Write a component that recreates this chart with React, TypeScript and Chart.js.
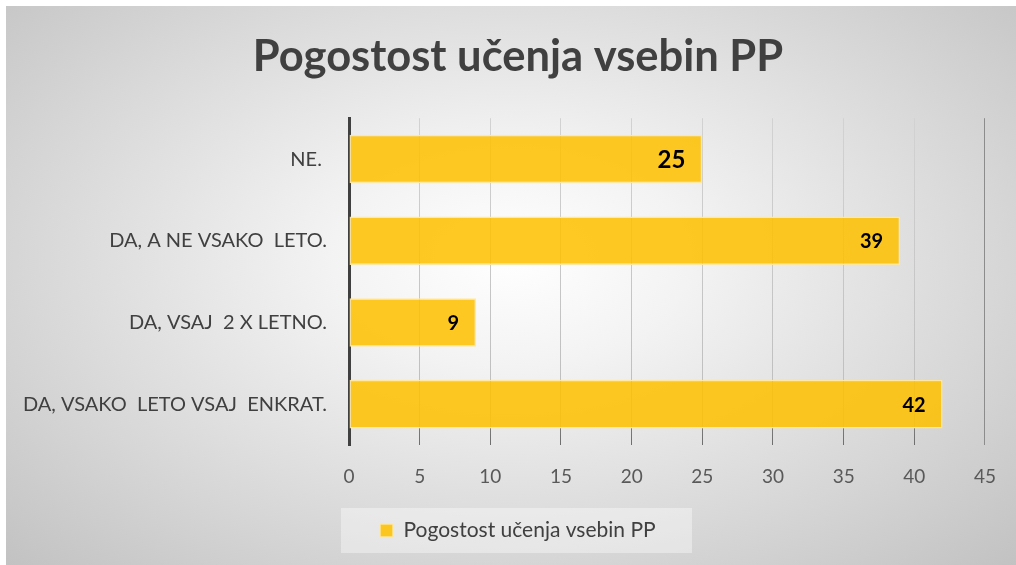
import React, { useEffect, useRef } from "react";
import { Chart, registerables } from "chart.js";

Chart.register(...registerables);

const chartTitle = "Pogostost učenja vsebin PP";
const seriesName = "Pogostost učenja vsebin PP";
const categories = [
  "NE. ",
  "DA, A NE VSAKO  LETO.",
  "DA, VSAJ  2 X LETNO.",
  "DA, VSAKO  LETO VSAJ  ENKRAT.",
];
const values = [25, 39, 9, 42];
const valueTicks = [0, 5, 10, 15, 20, 25, 30, 35, 40, 45];

const FONT = "Lato, 'Open Sans', sans-serif";
const valueLabelSizes = [24, 20, 20, 20];

export default function App() {
  const ref = useRef<HTMLCanvasElement>(null);

  useEffect(() => {
    const canvas = ref.current;
    if (!canvas) return;

    const valueLabels = {
      id: "valueLabels",
      afterDatasetsDraw(chart: any) {
        const ctx = chart.ctx;
        const meta = chart.getDatasetMeta(0);
        ctx.save();
        ctx.fillStyle = "#000000";
        ctx.textAlign = "right";
        ctx.textBaseline = "middle";
        meta.data.forEach((bar: any, i: number) => {
          const size = valueLabelSizes[i] ?? 20;
          ctx.font = `bold ${size}px ${FONT}`;
          ctx.fillText(String(values[i]), bar.x - 17, bar.y + 1);
        });
        ctx.restore();
      },
    };

    const blockPlacement = {
      id: "blockPlacement",
      afterLayout(chart: any) {
        const t = chart.titleBlock;
        if (t) {
          const dx = 512 - (t.left + t.right) / 2;
          t.left += dx;
          t.right += dx;
        }
      },
      afterUpdate(chart: any) {
        const lg = chart.legend;
        if (!lg || !lg.legendHitBoxes || !lg.legendHitBoxes.length) return;
        const hb = lg.legendHitBoxes[0];
        const dx = 374 - hb.left;
        const dy = 524.5 - (hb.top + hb.height / 2);
        lg.left += dx;
        lg.right += dx;
        lg.top += dy;
        lg.bottom += dy;
        hb.left += dx;
        hb.top += dy;
      },
      beforeDraw(chart: any) {
        const lg = chart.legend;
        const hb = lg && lg.legendHitBoxes && lg.legendHitBoxes[0];
        if (!hb) return;
        const ctx = chart.ctx;
        const cy = hb.top + hb.height / 2;
        ctx.save();
        ctx.fillStyle = "rgba(255,255,255,0.38)";
        ctx.fillRect(hb.left - 39, cy - 22.5, 351, 45);
        ctx.restore();
      },
    };

    const chart = new Chart(canvas, {
      type: "bar",
      data: {
        labels: categories,
        datasets: [
          {
            label: seriesName,
            data: values,
            backgroundColor: "rgba(255,192,0,0.86)",
            borderColor: "rgba(255,232,160,0.95)",
            borderWidth: 1.5,
            borderSkipped: false,
            categoryPercentage: 1,
            barPercentage: 0.595,
          },
        ],
      },
      options: {
        indexAxis: "y",
        animation: false,
        responsive: false,
        events: [],
        layout: { padding: { left: 0, right: 30, top: 0, bottom: 14 } },
        scales: {
          x: {
            type: "linear",
            min: 0,
            max: 45,
            afterBuildTicks(scale: any) {
              scale.ticks = valueTicks.map((v) => ({ value: v }));
            },
            afterFit(scale: any) {
              scale.height = 65;
            },
            border: { display: false },
            grid: {
              drawTicks: false,
              lineWidth: 1,
              color: (c: any) => {
                const { ctx, chartArea } = c.chart;
                if (c.index === valueTicks.length - 1) return "#8c8c8c";
                if (!chartArea) return "#c8c8c8";
                const g = ctx.createLinearGradient(0, chartArea.top, 0, chartArea.bottom);
                g.addColorStop(0, "#d2d2d2");
                g.addColorStop(0.945, "#bcbcbc");
                g.addColorStop(0.95, "#7a7a7a");
                g.addColorStop(1, "#6e6e6e");
                return g;
              },
            },
            ticks: {
              padding: 20,
              color: "#595959",
              font: { family: FONT, size: 19 },
            },
          },
          y: {
            z: 1,
            afterFit(scale: any) {
              scale.width = 343;
            },
            border: { display: true, color: "#404040", width: 3 },
            grid: { display: false, drawTicks: false },
            ticks: {
              padding: 22,
              color: "#404040",
              font: { family: FONT, size: 20 },
            },
          },
        },
        plugins: {
          title: {
            display: true,
            text: chartTitle,
            color: "#404040",
            font: { family: FONT, size: 43.5, weight: "bold" },
            padding: { top: 25, bottom: 35 },
          },
          legend: {
            display: true,
            position: "bottom",
            labels: {
              color: "#404040",
              font: { family: FONT, size: 21 },
              boxWidth: 13,
              boxHeight: 13,
              padding: 10,
            },
          },
          tooltip: { enabled: false },
        },
      },
      plugins: [valueLabels, blockPlacement],
    } as any);

    return () => chart.destroy();
  }, []);

  return (
    <div
      style={{
        position: "absolute",
        left: 6,
        top: 6,
        width: 1010,
        height: 559,
        background:
          "radial-gradient(ellipse farthest-corner at 50% 45%, #ffffff 0%, #f3f3f3 25%, #c2c2c2 100%)",
      }}
    >
      <canvas ref={ref} width={1010} height={559} style={{ display: "block" }} />
    </div>
  );
}
